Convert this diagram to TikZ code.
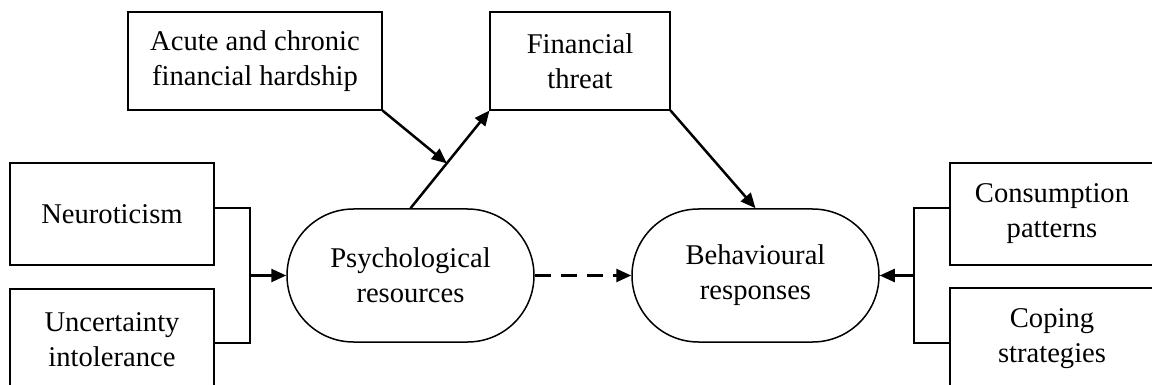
\documentclass[tikz,border=0pt]{standalone}
\usepackage{fontspec}
\setmainfont{Liberation Serif}
\usetikzlibrary{arrows.meta,calc,positioning}

\tikzset{
  factor/.style={draw,line width=0.55pt,align=center,inner sep=2pt,
    minimum width=102pt,minimum height=51pt,font=\fontsize{14.3}{17.5}\selectfont},
  outcome/.style={draw,line width=0.75pt,align=center,rounded corners=33.25pt,
    minimum width=123.5pt,minimum height=66.5pt,font=\fontsize{14.3}{17.5}\selectfont},
  link/.style={line width=1.25pt,-{Triangle[length=7.5pt,width=6.5pt]}},
  joint/.style={line width=0.9pt}
}

\begin{document}
\begin{tikzpicture}[x=0.5pt,y=-0.5pt]
\clip (0,0) rectangle (1152,385);
% moderators and predictors
\node[factor] (neuro) at (112,214) {Neuroticism};
\node[factor] (uncert) at (112,340) {Uncertainty\\intolerance};
\node[factor,minimum width=127pt,minimum height=49pt] (hardship) at (255,61) {Acute and chronic\\financial hardship};
\node[factor,minimum width=90pt,minimum height=49pt] (threat) at (580,61) {Financial\\threat};
\node[outcome] (psych) at (410.5,275.5) {Psychological\\resources};
\node[outcome] (behav) at (755.5,275.5) {Behavioural\\responses};
\node[factor] (consum) at (1052,214) {Consumption\\patterns};
\node[factor] (coping) at (1052,339) {Coping\\strategies};
\coordinate (lj) at (250,275.5);
\coordinate (rj) at (914,275.5);
\coordinate (mid) at ($(psych.north)!0.46!(threat.south west)$);
% connectors
\draw[joint] (psych.north -| neuro.east) -| (lj) |- (psych.south -| uncert.east);
\draw[link] (lj) -- (psych.west);
\draw[joint] (behav.north -| consum.west) -| (rj) |- (behav.south -| coping.west);
\draw[link] (rj) -- (behav.east);
\draw[link] (psych.north) -- (threat.south west);
\draw[link] (hardship.south east) -- (mid);
\draw[link] (threat.south east) -- (behav.north);
\draw[link,dash pattern=on 8pt off 5pt] (psych.east) -- (behav.west);
\end{tikzpicture}
\end{document}
